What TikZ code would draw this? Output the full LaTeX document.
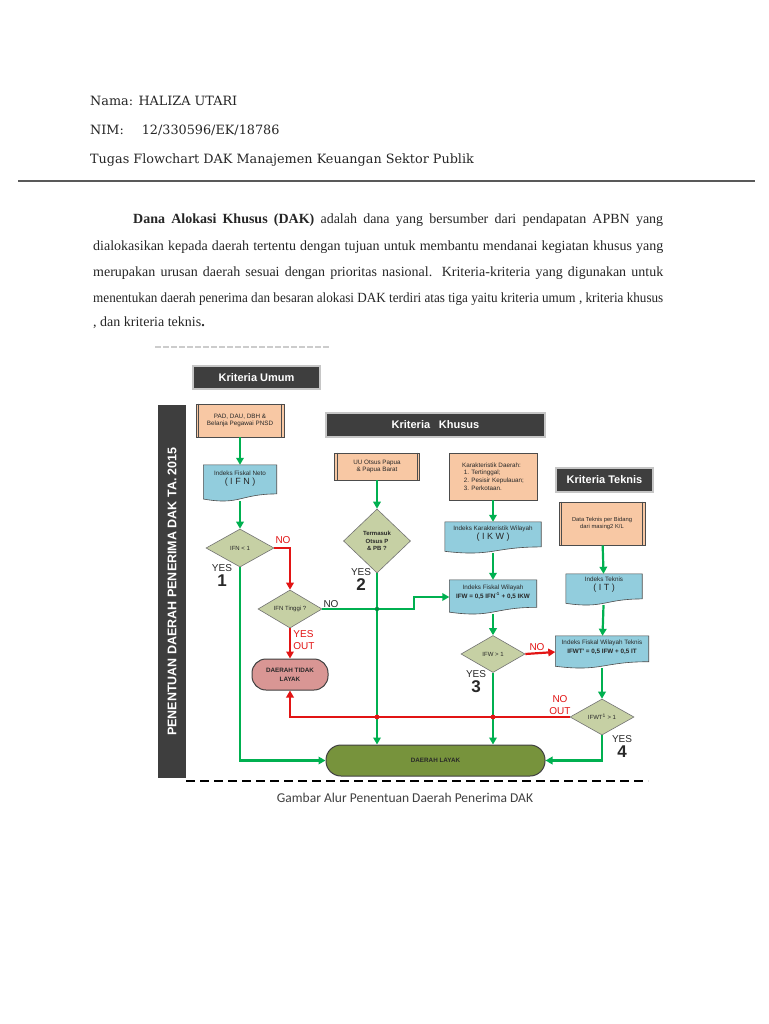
\documentclass[tikz,border=0pt]{standalone}
\usepackage{fontspec}
\usepackage{graphicx}
\setmainfont{Liberation Serif}
\newfontfamily\chartfont{Liberation Sans}
\newfontfamily\headfont{DejaVu Serif}
\newfontfamily\capfont{Carlito}
\usetikzlibrary{positioning, arrows.meta, shapes.geometric, calc}
\definecolor{hdrgray}{RGB}{62,62,62}
\definecolor{peach}{RGB}{248,200,164}
\definecolor{docblue}{RGB}{146,205,221}
\definecolor{diafill}{RGB}{198,208,164}
\definecolor{flowgreen}{RGB}{0,176,80}
\definecolor{flowred}{RGB}{226,20,20}
\definecolor{tidakfill}{RGB}{217,150,148}
\definecolor{layakfill}{RGB}{119,147,60}
\definecolor{inktext}{RGB}{40,40,40}
\pgfdeclarelayer{paper}
\pgfdeclarelayer{shapes}
\pgfsetlayers{paper,shapes,main}

% document shape with wavy bottom, drawn behind the node text
\newcommand{\docoutline}[1]{%
  \begin{pgfonlayer}{shapes}
  \filldraw[fill=docblue, draw=black!70, line width=0.6pt]
    (#1.north west) -- (#1.north east) -- ($(#1.north east)!0.80!(#1.south east)$)
    .. controls ($(#1.north)!0.80!(#1.south)$) and ($(#1.north)!1.12!(#1.south)$)
    .. ($(#1.north west)!0.94!(#1.south west)$) -- cycle;
  \end{pgfonlayer}}
% double side bars of a process box
\newcommand{\procsides}[1]{%
  \draw[black!70, line width=0.6pt]
    ([xshift=3pt]#1.north west) -- ([xshift=3pt]#1.south west)
    ([xshift=-3pt]#1.north east) -- ([xshift=-3pt]#1.south east);}

\begin{document}
\begin{tikzpicture}[
    x=1pt, y=-1pt,
    headline/.style={anchor=base west, inner sep=0, font=\headfont\fontsize{12.8}{14}\selectfont, text=black!85},
    parline/.style={anchor=base west, inner sep=0, font=\fontsize{14}{16}\selectfont, text=black!85},
    hdrbox/.style={
        draw=gray!45,
        line width=1.2pt,
        fill=hdrgray,
        text=white,
        font=\chartfont\bfseries\fontsize{11}{12}\selectfont,
        inner sep=0
    },
    procbox/.style={
        draw=black!70,
        line width=0.6pt,
        fill=peach,
        text=inktext,
        font=\chartfont\fontsize{6.3}{7.6}\selectfont,
        align=center,
        inner sep=0
    },
    docbox/.style={
        text=inktext,
        font=\chartfont\fontsize{6.3}{8}\selectfont,
        align=center,
        inner sep=0
    },
    decision/.style={
        diamond,
        draw=black!55,
        line width=0.6pt,
        fill=diafill,
        text=inktext,
        font=\chartfont\fontsize{6}{7.4}\selectfont,
        align=center,
        inner sep=0
    },
    termbox/.style={
        draw=black!75,
        line width=1pt,
        rounded corners=14pt,
        fill=#1,
        text=inktext,
        font=\chartfont\bfseries\fontsize{6.3}{9}\selectfont,
        align=center,
        inner sep=0
    },
    gflow/.style={draw=flowgreen, line width=2.2pt, -{Triangle[length=7pt,width=7.5pt]}},
    rflow/.style={draw=flowred, line width=2.2pt, -{Triangle[length=7pt,width=7.5pt]}},
    yeslbl/.style={font=\chartfont\fontsize{10}{11}\selectfont, text=inktext, inner sep=0.5pt},
    nolbl/.style={font=\chartfont\fontsize{10}{10.5}\selectfont, text=flowred, inner sep=0.5pt, align=center},
    bignum/.style={font=\chartfont\bfseries\fontsize{17}{17}\selectfont, text=inktext, inner sep=0.5pt}
]

% === page ===
\begin{pgfonlayer}{paper}
\fill[white] (0,0) rectangle (768,1024);
\end{pgfonlayer}
\useasboundingbox (0,0) rectangle (768,1024);

% === Header ===
\node[headline] (nama) at (90,106) {Nama: HALIZA UTARI};
\node[headline] (nim) at (90,135) {NIM:\hspace{1.4em}12/330596/EK/18786};
\node[headline] (tugas) at (90,164) {Tugas Flowchart DAK Manajemen Keuangan Sektor Publik};
\draw[black!65, line width=1.3pt] (18,181) -- (755,181);

% === Paragraph ===
\node[parline] (par1) at (133,224) {\makebox[530pt][s]{\textbf{Dana Alokasi Khusus (DAK)} adalah dana yang bersumber dari pendapatan APBN yang}};
\node[parline] (par2) at (93,250) {\makebox[570pt][s]{dialokasikan kepada daerah tertentu dengan tujuan untuk membantu mendanai kegiatan khusus yang}};
\node[parline] (par3) at (93,276) {\makebox[570pt][s]{merupakan urusan daerah sesuai dengan prioritas nasional. Kriteria-kriteria yang digunakan untuk}};
\node[parline] (par4) at (93,302) {\resizebox{570pt}{\height}{menentukan daerah penerima dan besaran alokasi DAK terdiri atas tiga yaitu kriteria umum , kriteria khusus}};
\node[parline] (par5) at (93,326) {, dan kriteria teknis\textbf{.}};
\draw[gray!40, line width=1.5pt, dash pattern=on 6pt off 2pt] (155,347) -- (330,347);

% === Side bar ===
\node[hdrbox, draw=none, rotate=90, minimum width=373pt, minimum height=28pt,
      font=\chartfont\bfseries\fontsize{12.5}{13}\selectfont] (side) at (172,591.5) {PENENTUAN DAERAH PENERIMA DAK TA. 2015};

% === Criteria headers ===
\node[hdrbox, minimum width=127pt, minimum height=23pt] (umum) at (256.5,377.5) {Kriteria Umum};
\node[hdrbox, minimum width=219pt, minimum height=24pt] (khusus) at (435.5,425) {Kriteria\hspace{0.8em}Khusus};
\node[hdrbox, minimum width=97pt, minimum height=24pt] (teknis) at (604.5,480) {Kriteria Teknis};

% === Kriteria Umum column ===
\node[procbox, minimum width=88pt, minimum height=33pt] (pad) at (240,420.5) {PAD, DAU, DBH \&\\Belanja Pegawai PNSD};
\procsides{pad}
\node[docbox, minimum width=73pt, minimum height=36pt] (ifn) at (240,483) {Indeks Fiskal Neto\\[1pt]{\fontsize{9}{9}\selectfont( I F N )}\\[3pt]};
\docoutline{ifn}
\node[decision, minimum width=68pt, minimum height=38pt] (d1) at (240,548) {IFN < 1};
\node[decision, minimum width=64pt, minimum height=38pt] (d2) at (290,609) {IFN Tinggi ?};
\node[termbox=tidakfill, minimum width=76pt, minimum height=31pt] (tidak) at (290,674.5) {DAERAH TIDAK\\LAYAK};

% === Kriteria Khusus columns ===
\node[procbox, minimum width=85pt, minimum height=27pt] (uu) at (377,466.5) {UU Otsus Papua\\\& Papua Barat};
\procsides{uu}
\node[decision, font=\chartfont\bfseries\fontsize{6}{7.6}\selectfont, minimum width=67pt, minimum height=64pt] (otsus) at (377,541) {Termasuk\\Otsus P\\\& PB ?};

\node[procbox, align=left, minimum width=88pt, minimum height=47pt] (kar) at (493,476.5) {Karakteristik Daerah:\\\ 1. Tertinggal;\\\ 2. Pesisir Kepulauan;\\\ 3. Perkotaan.};
\node[docbox, minimum width=96pt, minimum height=31pt] (ikw) at (493,537.5) {Indeks Karakteristik Wilayah\\[1pt]{\fontsize{9}{9}\selectfont( I K W )}\\[2pt]};
\docoutline{ikw}
\node[docbox, minimum width=87pt, minimum height=34pt] (ifw) at (493,597) {Indeks Fiskal Wilayah\\[1pt]\textbf{IFW = 0,5 IFN\textsuperscript{-1} + 0,5 IKW}\\[3pt]};
\docoutline{ifw}
\node[decision, minimum width=64pt, minimum height=37pt] (d3) at (493,654) {IFW > 1};

% === Kriteria Teknis column ===
\node[procbox, font=\chartfont\fontsize{5.8}{7.4}\selectfont, minimum width=86pt, minimum height=43pt] (dat) at (602,523.5) {Data Teknis per Bidang\\dari masing2 K/L};
\procsides{dat}
\node[docbox, minimum width=76pt, minimum height=31pt] (it) at (604,589.5) {Indeks Teknis\\[1pt]{\fontsize{9}{9}\selectfont( I T )}\\[3pt]};
\docoutline{it}
\node[docbox, minimum width=93pt, minimum height=32pt] (ifwt) at (602,652) {Indeks Fiskal Wilayah Teknis\\[1pt]\textbf{IFWT' = 0,5 IFW + 0,5 IT}\\[3pt]};
\docoutline{ifwt}
\node[decision, minimum width=64pt, minimum height=36pt] (d4) at (602,717) {IFWT\textsuperscript{1} > 1};

% === Result ===
\node[termbox=layakfill, rounded corners=15pt, minimum width=219pt, minimum height=31pt] (layak) at (435.5,760.5) {DAERAH LAYAK};

% === Arrows ===
\draw[gflow] (pad) -- (ifn);
\draw[gflow] (ifn) -- (d1);
\draw[gflow] (d1.south) |- (layak.west);
\draw[rflow] (d1.east) -| (d2.north);
\draw[rflow] (d2.south) -- (tidak.north);
\coordinate (bend) at (414,609);
\draw[gflow] (d2.east) -- (bend) |- (ifw.west);

\draw[gflow] (uu) -- (otsus);
\draw[gflow] (otsus.south) -- (otsus.south |- layak.north);

\draw[gflow] (kar) -- (ikw);
\draw[gflow] (ikw) -- (ifw);
\draw[gflow] (ifw) -- (d3);
\draw[rflow] (d3.east) -- (ifwt.west);
\draw[gflow] (d3.south) -- (d3.south |- layak.north);

\draw[gflow] (dat) -- (it);
\draw[gflow] (it) -- (ifwt);
\draw[gflow] (ifwt) -- (d4);
\draw[gflow] (d4.south) |- (layak.east);
\draw[rflow] (d4.west) -| (tidak.south);

% crossing marks
\fill[flowgreen!80!black] (otsus.south |- bend) circle (2.2pt);
\fill[flowred] (otsus.south |- d4.west) circle (2.4pt);
\fill[flowred] (d3.south |- d4.west) circle (2.4pt);

% === Labels ===
\node[nolbl] (no1) at (283,540) {NO};
\node[yeslbl] (yes1) at (222,568) {YES};
\node[bignum, below=2pt of yes1] (num1) {1};
\node[yeslbl] (no2) at (331,604) {NO};
\node[nolbl, align=left, font=\chartfont\fontsize{10}{11.5}\selectfont] (out2) at (304,640) {YES\\OUT};
\node[yeslbl] (yes2) at (361,572) {YES};
\node[bignum, below=2pt of yes2] (num2) {2};
\node[nolbl] (no3) at (537,647) {NO};
\node[yeslbl] (yes3) at (476,674) {YES};
\node[bignum, below=2pt of yes3] (num3) {3};
\node[nolbl, font=\chartfont\fontsize{10}{11.5}\selectfont] (out4) at (560,705) {NO\\OUT};
\node[yeslbl] (yes4) at (622,739) {YES};
\node[bignum, below=2pt of yes4] (num4) {4};

% === Caption ===
\draw[black, line width=1.8pt, dash pattern=on 9pt off 5pt] (186,781) -- (648,781);
\node[font=\capfont\fontsize{13.5}{15}\selectfont, text=black!75] (caption) at (405,798) {Gambar Alur Penentuan Daerah Penerima DAK};

\end{tikzpicture}
\end{document}
